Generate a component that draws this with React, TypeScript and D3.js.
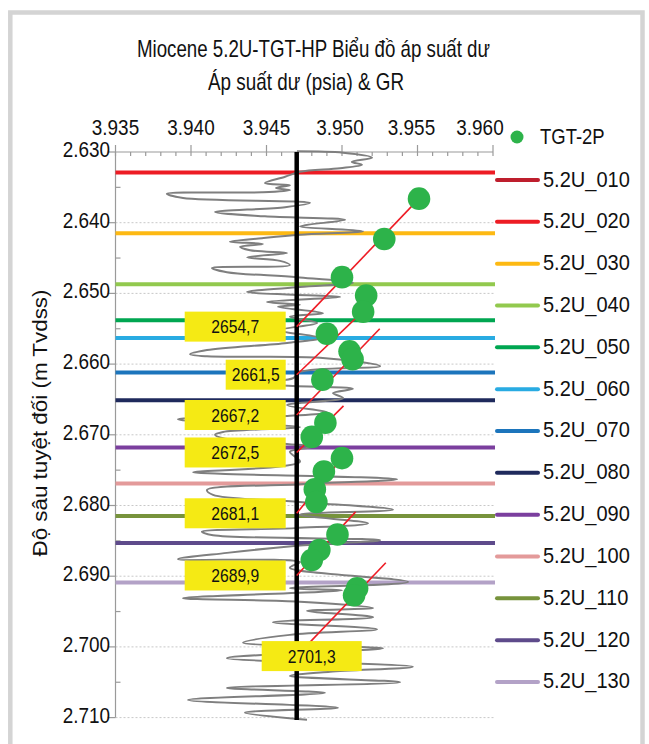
import React from 'react';
import * as d3 from 'd3';

// ---------- DATA ----------
const title1 = 'Miocene 5.2U-TGT-HP Biểu đồ áp suất dư';
const title2 = 'Áp suất dư (psia) & GR';
const yTitle = 'Độ sâu tuyệt đối (m Tvdss)';

const pressureTicks = [3935, 3940, 3945, 3950, 3955, 3960];
const depthTicks = [2630, 2640, 2650, 2660, 2670, 2680, 2690, 2700, 2710];

const seriesName = 'TGT-2P';
const markerNames = ['5.2U_010', '5.2U_020', '5.2U_030', '5.2U_040', '5.2U_050', '5.2U_060', '5.2U_070', '5.2U_080', '5.2U_090', '5.2U_100', '5.2U_110', '5.2U_120', '5.2U_130'];
const markerDepths = [null, 2632.9, 2641.5, 2648.7, 2653.8, 2656.3, 2661.2, 2665.1, 2671.8, 2676.9, 2681.5, 2685.3, 2690.9];
const markerColors = ['#BE1E2D', '#ED1C24', '#FDB913', '#92C94E', '#00A651', '#29ABE2', '#1C75BC', '#1F2A5C', '#7B3F9E', '#E39A9A', '#77933C', '#5E4B8B', '#B3A2C7'];

const tgtPressure = [3955.1, 3952.8, 3950.0, 3951.6, 3951.4, 3949.0, 3950.5, 3950.7, 3948.7, 3948.9, 3948.0, 3950.0, 3948.8, 3948.2, 3948.3, 3949.7, 3948.5, 3948.0, 3951.0, 3950.8];
const tgtDepth = [2636.6, 2642.3, 2647.7, 2650.3, 2652.6, 2655.7, 2658.2, 2659.3, 2662.2, 2668.3, 2670.3, 2673.3, 2675.2, 2677.7, 2679.5, 2684.1, 2686.3, 2687.7, 2691.7, 2692.7];

const refPressure = 3947;
const gradientStartDepth = [2654.7, 2661.5, 2667.2, 2672.5, 2681.1, 2689.9, 2701.3];
const gradientEndPressure = [3955.1, 3951.4, 3952.5, 3950.1, 3950.0, 3950.9, 3952.9];
const gradientEndDepth = [2636.6, 2652.5, 2655.0, 2665.9, 2673.3, 2680.9, 2688.1];

const grDepth = [2629.9, 2630.1, 2630.8, 2631.4, 2631.8, 2632.3, 2632.8, 2633.5, 2634.4, 2634.7, 2635.1, 2635.4, 2635.7, 2635.9, 2636.5, 2637.2, 2637.8, 2638.5, 2639.1, 2639.6, 2640.5, 2641.2, 2641.7, 2642.2, 2642.7, 2643.0, 2643.4, 2643.9, 2644.3, 2644.9, 2645.4, 2646.0, 2646.4, 2647.0, 2647.7, 2648.5, 2649.1, 2649.8, 2650.2, 2650.5, 2651.2, 2651.6, 2651.9, 2652.8, 2653.3, 2654.2, 2655.2, 2656.3, 2657.0, 2658.0, 2658.6, 2658.9, 2659.1, 2660.3, 2661.1, 2662.0, 2662.7, 2663.1, 2663.5, 2664.1, 2664.8, 2665.8, 2666.8, 2667.3, 2667.8, 2668.2, 2668.9, 2669.6, 2670.0, 2670.5, 2671.3, 2671.7, 2672.4, 2673.8, 2675.3, 2675.5, 2676.3, 2677.0, 2677.8, 2678.5, 2679.5, 2680.6, 2681.3, 2682.5, 2683.2, 2683.7, 2684.2, 2684.9, 2685.7, 2686.7, 2687.6, 2688.0, 2688.8, 2690.8, 2691.7, 2692.0, 2693.1, 2693.6, 2694.5, 2694.9, 2695.8, 2696.5, 2697.5, 2698.3, 2699.4, 2700.2, 2700.9, 2701.6, 2702.8, 2703.5, 2704.1, 2705.0, 2705.8, 2706.5, 2707.5, 2708.6, 2709.3, 2710.3];
const grValue = [72.2, 90.5, 102.0, 94.0, 98.0, 89.3, 73.4, 67.5, 59.5, 69.4, 63.9, 69.4, 58.3, 20.6, 27.0, 77.4, 67.5, 39.7, 59.5, 91.3, 73.4, 98.4, 73.4, 58.3, 45.6, 58.7, 49.6, 53.6, 68.3, 52.4, 65.5, 69.4, 38.5, 44.4, 72.2, 94.4, 73.4, 52.4, 70.6, 89.3, 60.3, 73.4, 64.7, 82.5, 69.4, 80.2, 65.5, 81.3, 68.3, 36.5, 29.8, 36.5, 81.3, 105.2, 73.4, 70.6, 44.4, 70.6, 94.4, 86.5, 90.5, 68.3, 84.1, 69.4, 25.0, 33.7, 73.4, 42.9, 39.7, 42.9, 68.3, 78.6, 69.4, 73.4, 31.0, 41.7, 111.9, 73.4, 36.5, 38.9, 73.4, 110.3, 73.4, 100.4, 71.4, 34.5, 38.9, 105.2, 72.2, 44.4, 25.0, 73.4, 69.4, 116.3, 69.4, 90.1, 27.0, 73.4, 102.4, 76.2, 102.4, 62.7, 104.0, 69.4, 50.8, 106.3, 69.4, 44.4, 118.2, 85.3, 69.4, 113.1, 44.4, 83.3, 29.0, 88.5, 51.6, 76.2];

// ---------- LAYOUT / STYLE ----------
const W = 649;
const H = 744;
const plot = { left: 115.5, right: 493, top: 152, bottom: 717.6 };
const tickLabelShift = [0, 0, 0, -2, -6, -13];
const labelBox = [
  { dx: -112, w: 101 },
  { dx: -71, w: 60 },
  { dx: -112, w: 101 },
  { dx: -112, w: 101 },
  { dx: -112, w: 101 },
  { dx: -112, w: 101 },
  { dx: -35, w: 100 },
];
const FONT = 'Liberation Sans, Arial, sans-serif';
const GREEN = '#2DB34A';

function T({ x, y, anchor = 'start', size = 22, sx = 0.86, children, fill = '#111' }: any) {
  return (
    <text transform={`translate(${x},${y}) scale(${sx},1)`} textAnchor={anchor} fontSize={size} fontFamily={FONT} fill={fill}>
      {children}
    </text>
  );
}

const thousands = (v: number) => d3.format(',')(v).replace(',', '.');

export default function App() {
  const x = d3.scaleLinear().domain([3935, 3960]).range([plot.left, plot.right]);
  const y = d3.scaleLinear().domain([2630, 2710]).range([plot.top, plot.bottom]);
  const gr = d3.scaleLinear().domain([0, 150]).range([115, 493]);

  const grPts = grDepth.map((d, i) => [grValue[i], d] as [number, number]);
  const grPath = d3
    .line<[number, number]>()
    .x((d) => gr(d[0]))
    .y((d) => y(d[1]))
    .curve(d3.curveCatmullRom.alpha(0.5))(grPts) as string;

  const minorX = d3.range(3935, 3960.001, 1);
  const minorY = d3.range(2635, 2710, 10);
  const lineRight = 495;
  const legendRowY = (i: number) => 180 + i * 41.83;

  return (
    <svg width={W} height={H} style={{ position: 'absolute', left: 0, top: 0, background: '#fff' }}>
      <rect x={0} y={0} width={W} height={H} fill="#fff" />
      <rect x={10.3} y={12.5} width={632.2} height={780} fill="#fff" stroke="#D4D4D4" strokeWidth={4.5} />

      {/* titles */}
      <text x={313.5} y={57} textAnchor="middle" fontSize={24} fontFamily={FONT} fill="#111" textLength={353} lengthAdjust="spacingAndGlyphs">{title1}</text>
      <text x={306} y={90} textAnchor="middle" fontSize={24} fontFamily={FONT} fill="#111" textLength={196} lengthAdjust="spacingAndGlyphs">{title2}</text>

      {/* y title */}
      <text transform={`translate(47,423) rotate(-90)`} textAnchor="middle" fontSize={21} fontFamily={FONT} fill="#111" textLength={267} lengthAdjust="spacingAndGlyphs">{yTitle}</text>

      {/* gridlines */}
      {depthTicks.slice(1).map((d) => (
        <line key={'g' + d} x1={plot.left} x2={lineRight} y1={y(d)} y2={y(d)} stroke="#C8C8C8" strokeWidth={1} strokeDasharray="2,2" />
      ))}

      {/* top axis */}
      <line x1={plot.left} x2={plot.right} y1={plot.top} y2={plot.top} stroke="#9A9A9A" strokeWidth={1.2} />
      {minorX.map((p) => {
        const major = Math.abs(p % 5) < 1e-6;
        return <line key={'tx' + p} x1={x(p)} x2={x(p)} y1={major ? plot.top - 7 : plot.top} y2={plot.top + 4} stroke="#9A9A9A" strokeWidth={1.2} />;
      })}
      {pressureTicks.map((p, i) => (
        <T key={'lx' + p} x={x(p) + tickLabelShift[i]} y={135} anchor="middle">{thousands(p)}</T>
      ))}

      {/* left axis */}
      <line x1={plot.left} x2={plot.left} y1={plot.top} y2={plot.bottom} stroke="#9A9A9A" strokeWidth={1.2} />
      {depthTicks.map((d) => (
        <line key={'ty' + d} x1={plot.left - 8} x2={plot.left} y1={y(d)} y2={y(d)} stroke="#9A9A9A" strokeWidth={1.2} />
      ))}
      {minorY.map((d) => (
        <line key={'tm' + d} x1={plot.left} x2={plot.left + 5} y1={y(d)} y2={y(d)} stroke="#9A9A9A" strokeWidth={1.2} />
      ))}
      {depthTicks.map((d) => (
        <T key={'ly' + d} x={110} y={y(d) + 5} anchor="end">{thousands(d)}</T>
      ))}

      {/* formation marker lines */}
      {markerDepths.map((d, i) =>
        d == null ? null : (
          <line key={'m' + i} x1={plot.left} x2={lineRight} y1={y(d)} y2={y(d)} stroke={markerColors[i]} strokeWidth={4} />
        )
      )}

      {/* GR curve */}
      <path d={grPath} fill="none" stroke="#7F7F7F" strokeWidth={2} />

      {/* reference pressure line */}
      <line x1={x(refPressure)} x2={x(refPressure)} y1={plot.top} y2={720} stroke="#000" strokeWidth={4.5} />

      {/* gradient lines */}
      {gradientStartDepth.map((d, i) => (
        <line key={'r' + i} x1={x(refPressure)} y1={y(d)} x2={x(gradientEndPressure[i])} y2={y(gradientEndDepth[i])} stroke="#EE1C25" strokeWidth={1.6} />
      ))}

      {/* TGT-2P points */}
      {tgtPressure.map((p, i) => (
        <circle key={'c' + i} cx={x(p)} cy={y(tgtDepth[i])} r={11.3} fill={GREEN} />
      ))}

      {/* depth labels */}
      {gradientStartDepth.map((d, i) => {
        const bx = x(refPressure) + labelBox[i].dx;
        const bw = labelBox[i].w;
        return (
          <g key={'lb' + i}>
            <rect x={bx} y={y(d) - 15} width={bw} height={30} fill="#F5EA14" />
            <T x={bx + bw / 2} y={y(d) + 6.5} anchor="middle" size={18} sx={0.87}>{d.toFixed(1).replace('.', ',')}</T>
          </g>
        );
      })}

      {/* legend */}
      <circle cx={517} cy={137} r={6.5} fill={GREEN} />
      <T x={540} y={144} sx={0.84}>{seriesName}</T>
      {markerNames.map((n, i) => (
        <g key={'lg' + i}>
          <line x1={497} x2={538} y1={legendRowY(i)} y2={legendRowY(i)} stroke={markerColors[i]} strokeWidth={4} strokeLinecap="round" />
          <T x={543} y={legendRowY(i) + 6.5} sx={0.91}>{n}</T>
        </g>
      ))}
    </svg>
  );
}
